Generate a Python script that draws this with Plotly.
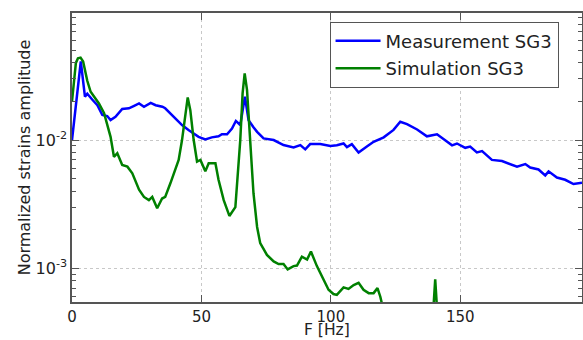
import plotly.graph_objects as go

# Measurement SG3
meas_f = [0, 3.4, 5.0, 5.9, 7.8, 9.8, 11.7, 13.6, 14.9, 16.8, 19.4, 22.0, 24.0, 25.9, 27.8,
          30.4, 32.3, 34.9, 36.0, 38.6, 42.5, 45.0, 48.9, 51.5, 54.0, 56.6, 57.9, 59.9,
          61.8, 63.3, 65.0, 66.8, 68.2, 70.1, 71.5, 74.0, 77.9, 81.7, 85.6, 88.2, 90.1,
          92.0, 95.9, 99.8, 102.3, 104.9, 106.2, 108.1, 110.7, 113.9, 116.5, 120.4, 124.2,
          126.8, 129.4, 133.3, 137.1, 141.0, 144.2, 146.8, 148.7, 151.9, 153.8, 156.4,
          158.4, 162.2, 166.1, 170.0, 171.9, 175.1, 177.0, 180.2, 182.8, 184.1, 187.3,
          190.5, 193.7, 197.0]
meas_a = [0.0100, 0.041, 0.0218, 0.023, 0.0207, 0.0187, 0.0157, 0.0154, 0.0143, 0.0152,
          0.0175, 0.0177, 0.0185, 0.0193, 0.0182, 0.0195, 0.0187, 0.0182, 0.0177, 0.0157,
          0.0131, 0.0120, 0.0106, 0.0101, 0.0105, 0.0107, 0.0111, 0.0111, 0.0123, 0.0141,
          0.0131, 0.0218, 0.0143, 0.0126, 0.0116, 0.0103, 0.0100, 0.00914, 0.00877,
          0.00914, 0.00846, 0.0093, 0.0093, 0.0090, 0.0091, 0.0094, 0.0088, 0.0093,
          0.0080, 0.0089, 0.0097, 0.0105, 0.0120, 0.0139, 0.0133, 0.0121, 0.0107, 0.0111,
          0.0099, 0.0091, 0.0094, 0.0087, 0.0089, 0.0080, 0.0082, 0.0070, 0.00686, 0.0064,
          0.0062, 0.0065, 0.0061, 0.0059, 0.0053, 0.0057, 0.0051, 0.0049, 0.00454, 0.00465]

# Simulation SG3
sim_f = [0, 1.5, 2.3, 3.3, 4.3, 5.9, 7.2, 9.1, 10.4, 12.4, 13.6, 14.9, 16.2, 17.5, 19.4,
         21.4, 23.3, 25.9, 27.8, 29.7, 31.0, 32.9, 34.8, 36.0, 38.0, 39.9, 41.2, 42.5,
         43.8, 44.7, 45.7, 47.0, 48.3, 49.6, 51.5, 52.8, 55.4, 56.6, 58.6, 60.8, 63.1,
         65.0, 65.9, 66.7, 67.6, 68.9, 70.1, 71.5, 72.7, 75.3, 77.9, 79.8, 81.7, 83.3,
         85.6, 86.9, 88.8, 90.8, 92.3, 94.6, 96.6, 99.1, 101.0, 102.3, 104.9, 106.8,
         108.8, 110.7, 112.6, 114.6, 116.5, 118.0, 119.1, 120.5, 125.0, 132.0, 139.5,
         140.3, 141.1, 150.0, 170.0, 197.0]
sim_a = [0.020, 0.040, 0.0435, 0.044, 0.041, 0.029, 0.0238, 0.0211, 0.0193, 0.0162,
         0.0135, 0.0106, 0.0074, 0.0079, 0.0064, 0.0062, 0.0055, 0.0041, 0.0036, 0.0034,
         0.0036, 0.00294, 0.0035, 0.0036, 0.0046, 0.0058, 0.0070, 0.0100, 0.0161, 0.0215,
         0.0171, 0.0100, 0.0068, 0.0070, 0.0057, 0.0066, 0.0066, 0.0049, 0.0034, 0.00256,
         0.0030, 0.0100, 0.0231, 0.0331, 0.0246, 0.0090, 0.00385, 0.0021, 0.00157,
         0.00127, 0.00113, 0.00108, 0.00108, 0.00098, 0.00104, 0.00105, 0.00123, 0.00117,
         0.00135, 0.00104, 0.00086, 0.00068, 0.00063, 0.00062, 0.00071, 0.00069, 0.00074,
         0.00077, 0.00068, 0.00064, 0.00064, 0.00070, 0.00060, 0.00045, 0.00040, 0.00040,
         0.00045, 0.00082, 0.00045, 0.00040, 0.00040, 0.00040]

x_ticks = [0, 50, 100, 150]
y_ticks = [1e-3, 1e-2]
y_ticktext = ["10<sup>-3</sup>", "10<sup>-2</sup>"]
y_minor = [m * d for d in (1e-4, 1e-3, 1e-2) for m in range(2, 10)]

FONT = "DejaVu Sans"
TXT = "#222222"
FRAME = "#555555"

fig = go.Figure()
fig.add_trace(go.Scatter(x=meas_f, y=meas_a, mode="lines", name="Measurement SG3",
                         legendgroup="m", line=dict(color="#0000ff", width=2.5)))
fig.add_trace(go.Scatter(x=sim_f, y=sim_a, mode="lines", name="Simulation SG3",
                         legendgroup="s", line=dict(color="#008000", width=2.5)))

fig.update_layout(
    width=583, height=340,
    margin=dict(l=72, r=1, t=13, b=38),
    paper_bgcolor="white", plot_bgcolor="white",
    font=dict(family=FONT, size=16, color=TXT),
    showlegend=True,
    legend=dict(x=0.505, y=0.97, xanchor="left", yanchor="top",
                bgcolor="white", bordercolor=FRAME, borderwidth=1,
                font=dict(size=18, color=TXT), tracegroupgap=1,
                itemwidth=45),
    xaxis=dict(range=[0, 197], tickvals=x_ticks, ticks="inside", ticklen=7,
               tickcolor=FRAME, showline=True, linecolor=FRAME, linewidth=1.5,
               mirror="ticks", showgrid=True, gridcolor="#c8c8c8", griddash="dot",
               gridwidth=1, zeroline=False, tickfont=dict(size=15, color=TXT),
               automargin=False),
    yaxis=dict(type="log", range=[-3.263, -1.009], tickvals=y_ticks, ticktext=y_ticktext,
               ticks="inside", ticklen=7, tickcolor=FRAME, showline=True,
               linecolor=FRAME, linewidth=1.5, mirror="ticks", showgrid=True,
               gridcolor="#c8c8c8", griddash="dot", gridwidth=1, zeroline=False,
               tickfont=dict(size=16, color=TXT), automargin=False,
               minor=dict(ticks="inside", ticklen=4, tickcolor=FRAME,
                          tickmode="array", tickvals=y_minor, showgrid=False),
               title=dict(text="Normalized strains amplitude",
                          font=dict(size=16, color=TXT), standoff=1)),
    annotations=[dict(text="F [Hz]", xref="paper", yref="paper", x=0.5, y=0,
                      xanchor="center", yanchor="bottom", yshift=-38, borderpad=0,
                      showarrow=False, font=dict(size=15.5, color=TXT))],
)

fig.write_html("out.html")
